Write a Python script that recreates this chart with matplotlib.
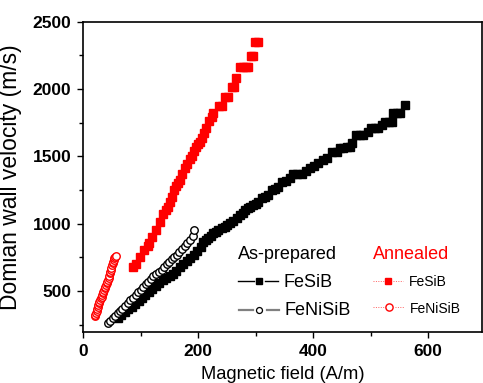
import matplotlib
matplotlib.use("Agg")
import matplotlib.pyplot as plt
from matplotlib.lines import Line2D
from matplotlib.ticker import MultipleLocator

plt.rcParams['font.family'] = ['Liberation Sans', 'DejaVu Sans']

# As-prepared FeSiB (black squares)
fesib_x = [60, 66, 72, 78, 84, 90, 96, 102, 108, 114, 120, 126, 132, 138, 144, 150, 156, 162,
           168, 174, 180, 186, 192, 198, 204, 209, 214, 217, 222, 226, 230, 235, 241, 246, 250,
           255, 261, 267, 272, 277, 281, 286, 290, 295, 300, 304, 310, 316, 322, 328, 334, 339,
           345, 352, 360, 365, 372, 380, 387, 394, 401, 409, 416, 423, 432, 441, 446, 452, 458,
           464, 467, 475, 481, 487, 495, 501, 507, 513, 520, 525, 531, 536, 539, 545, 551, 560]
fesib_y = [300, 320, 345, 365, 383, 405, 425, 445, 468, 490, 515, 540, 560, 580, 600, 610, 630, 650,
           675, 700, 720, 745, 770, 800, 825, 866, 880, 891, 910, 928, 940, 953, 965, 978, 990,
           1003, 1020, 1040, 1064, 1080, 1101, 1115, 1126, 1140, 1150, 1163, 1188, 1200, 1213, 1250, 1260, 1275,
           1312, 1320, 1337, 1369, 1369, 1369, 1390, 1411, 1430, 1448, 1470, 1485, 1529, 1529, 1560, 1560, 1572,
           1572, 1597, 1658, 1658, 1658, 1680, 1708, 1708, 1708, 1730, 1757, 1757, 1757, 1820, 1820, 1820, 1881]

# As-prepared FeNiSiB (open black circles)
fenisib_x = [43, 47, 51, 55, 60, 64, 68, 73, 77, 82, 86, 91, 95, 100, 104, 109, 113, 118, 122,
             127, 131, 136, 140, 145, 149, 154, 158, 163, 167, 172, 176, 181, 185, 190, 193]
fenisib_y = [265, 280, 298, 315, 338, 352, 370, 390, 410, 430, 450, 470, 490, 510, 530, 550, 570, 590, 610,
             625, 640, 660, 680, 700, 715, 735, 750, 770, 790, 810, 835, 860, 880, 910, 950]

# Annealed FeSiB (red squares)
ann_fesib_x = [86, 92, 99, 106, 112, 115, 120, 126, 133, 139, 143, 147, 150, 154, 158, 161, 165, 168,
               172, 177, 181, 185, 189, 192, 196, 200, 203, 207, 210, 214, 219, 223, 226, 236, 241,
               246, 251, 258, 262, 265, 272, 278, 283, 287, 291, 295, 299, 303]
ann_fesib_y = [676, 700, 750, 804, 835, 854, 900, 953, 1010, 1070, 1100, 1126, 1160, 1200, 1250, 1280, 1300, 1324,
               1370, 1411, 1440, 1480, 1503, 1540, 1567, 1590, 1609, 1640, 1671, 1710, 1765, 1790, 1820, 1876, 1876,
               1943, 1943, 2013, 2013, 2084, 2166, 2166, 2166, 2166, 2247, 2247, 2347, 2347]

# Annealed FeNiSiB (open red circles)
ann_fenisib_x = [20, 21, 22, 23, 24, 25, 26, 27, 28, 29, 31, 32, 33, 34, 35, 36, 37, 38, 40, 41, 42,
                 43, 44, 45, 46, 47, 48, 49, 50, 51, 52, 53, 54, 55, 56]
ann_fenisib_y = [312, 325, 340, 355, 370, 383, 395, 408, 420, 432, 445, 458, 470, 482, 495, 508, 520, 532,
                 545, 558, 570, 585, 600, 615, 631, 645, 660, 672, 690, 706, 718, 730, 742, 752, 760]

x_ticks = [0, 200, 400, 600]
y_ticks = [500, 1000, 1500, 2000, 2500]

W, H = 483, 383
fig = plt.figure(figsize=(W / 100, H / 100), dpi=100)
ax_l, ax_r, ax_t, ax_b = 83.3, 482, 21.7, 332
ax = fig.add_axes([ax_l / W, 1 - ax_b / H, (ax_r - ax_l) / W, (ax_b - ax_t) / H])

ax.plot(fesib_x, fesib_y, ls='none', marker='s', ms=5.8, color='black', mec='black')
ax.plot(ann_fesib_x, ann_fesib_y, ls='none', marker='s', ms=5.8, color='#ff0000', mec='#ff0000')
ax.plot(fenisib_x, fenisib_y, ls='none', marker='o', ms=5.4, mfc='white', mec='black', mew=1.0)
ax.plot(ann_fenisib_x, ann_fenisib_y, ls='none', marker='o', ms=5.4, mfc='white', mec='#ff0000', mew=1.0)

ax.set_xlim(0, (ax_r - ax_l) / 0.575)
ax.set_ylim(196, 2500)
ax.set_xticks(x_ticks)
ax.set_yticks(y_ticks)
ax.xaxis.set_minor_locator(MultipleLocator(100))
ax.yaxis.set_minor_locator(MultipleLocator(250))
ax.tick_params(which='major', direction='out', length=4.5, width=1.0, pad=4,
               labelsize=12.5, top=False, right=False)
ax.tick_params(which='minor', direction='out', length=2.8, width=1.0, top=False, right=False)
for lab in ax.get_xticklabels() + ax.get_yticklabels():
    lab.set_fontweight('bold')
for s in ax.spines.values():
    s.set_linewidth(1.2)

ax.set_xlabel('Magnetic field (A/m)', fontsize=13.2, labelpad=5)
ax.set_ylabel('Domian wall velocity (m/s)', fontsize=16.5)
ax.yaxis.set_label_coords((22 - ax_l) / (ax_r - ax_l), 0.5)

def fx(px):
    return px / W

def fy(py):
    return 1 - py / H

# legend (drawn manually)
fig.text(fx(238.3), fy(259.3), 'As-prepared', fontsize=13, color='black', va='baseline')
fig.text(fx(373.3), fy(259.3), 'Annealed', fontsize=13, color='#ff0000', va='baseline')

def seg(x0, x1, y, **kw):
    fig.add_artist(Line2D([fx(x0), fx(x1)], [fy(y), fy(y)], transform=fig.transFigure, **kw))

def mark(x, y, **kw):
    fig.add_artist(Line2D([fx(x)], [fy(y)], transform=fig.transFigure, ls='none', **kw))

# As-prepared FeSiB
seg(238.3, 253.5, 281, color='black', lw=1.0)
seg(265, 278.3, 281, color='black', lw=1.0)
mark(259.3, 281, marker='s', ms=4.8, color='black')
fig.text(fx(283.3), fy(287.3), 'FeSiB', fontsize=13, va='baseline')
# As-prepared FeNiSiB
seg(239.3, 252.5, 310, color='#808080', lw=1.6)
seg(266.5, 279.3, 310, color='#808080', lw=1.6)
mark(259.3, 310, marker='o', ms=4.3, mfc='white', mec='black', mew=0.9)
fig.text(fx(285), fy(315), 'FeNiSiB', fontsize=13, va='baseline')
# Annealed FeSiB
seg(372.7, 384.5, 281, color='#ff6060', lw=0.7, ls=(0, (1, 1.5)))
seg(393, 403.3, 281, color='#ff6060', lw=0.7, ls=(0, (1, 1.5)))
mark(388.3, 281, marker='s', ms=5, color='#ff0000')
fig.text(fx(409), fy(286), 'FeSiB', fontsize=10, va='baseline')
# Annealed FeNiSiB
seg(373.3, 384.5, 307.3, color='#ff6060', lw=0.7, ls=(0, (1, 1.5)))
seg(394.5, 404.3, 307.3, color='#ff6060', lw=0.7, ls=(0, (1, 1.5)))
mark(389.3, 307.3, marker='o', ms=5.2, mfc='white', mec='#ff0000', mew=1.0)
fig.text(fx(410), fy(313.3), 'FeNiSiB', fontsize=10, va='baseline')

fig.savefig('out.png', dpi=100)
